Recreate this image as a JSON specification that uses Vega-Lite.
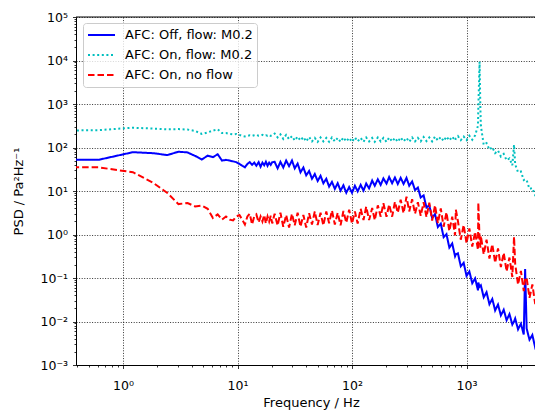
{
"$schema": "https://vega.github.io/schema/vega-lite/v6.json",
"width": 459,
"height": 348,
"autosize": {"type": "none"},
"padding": {"left": 76, "top": 17, "right": 0, "bottom": 45},
"background": "white",
"config": {"view": {"stroke": null}, "font": "DejaVu Sans"},
"data": {"values": [
{"f":0.3,"a":52,"b":245,"c":35},
{"f":0.61,"a":52,"b":250,"c":35},
{"f":1.22,"a":78,"b":285,"c":27},
{"f":1.83,"a":74,"b":272,"c":15.5},
{"f":2.44,"a":67,"b":262,"c":9},
{"f":3.05,"a":80,"b":265,"c":5},
{"f":3.66,"a":77,"b":258,"c":5.3},
{"f":4.27,"a":64,"b":240,"c":4.4},
{"f":4.88,"a":53,"b":205,"c":4.6},
{"f":5.49,"a":65,"b":222,"c":3.9},
{"f":6.1,"a":60,"b":245,"c":2.4},
{"f":6.71,"a":70,"b":262,"c":2.9},
{"f":7.32,"a":50,"b":215,"c":2.2},
{"f":7.93,"a":52,"b":215,"c":2.6},
{"f":8.54,"a":50,"b":205,"c":2.2},
{"f":9.15,"a":48,"b":200,"c":2.1},
{"f":9.76,"a":46,"b":205,"c":2.6},
{"f":10.4,"a":42,"b":195,"c":2.8},
{"f":11.0,"a":38,"b":185,"c":2.2},
{"f":11.6,"a":35,"b":180,"c":1.7},
{"f":12.2,"a":42,"b":185,"c":2.6},
{"f":12.8,"a":46,"b":190,"c":3.0},
{"f":13.4,"a":40,"b":185,"c":1.7},
{"f":14.0,"a":45,"b":192,"c":2.6},
{"f":14.6,"a":38,"b":196,"c":2.9},
{"f":15.3,"a":46,"b":186,"c":1.9},
{"f":15.9,"a":36,"b":190,"c":2.6},
{"f":16.5,"a":45,"b":195,"c":2.0},
{"f":17.1,"a":39,"b":185,"c":2.8},
{"f":17.7,"a":47,"b":190,"c":1.8},
{"f":18.3,"a":38,"b":186,"c":2.6},
{"f":18.9,"a":45,"b":195,"c":2.0},
{"f":19.5,"a":40,"b":185,"c":2.7},
{"f":20.1,"a":46,"b":192,"c":1.8},
{"f":21.1,"a":46.8,"b":209,"c":3.0},
{"f":22.4,"a":33.1,"b":170,"c":1.62},
{"f":23.7,"a":46.8,"b":200,"c":3.16},
{"f":25.1,"a":34.7,"b":158,"c":1.51},
{"f":26.6,"a":50.1,"b":195,"c":2.82},
{"f":28.2,"a":37.2,"b":155,"c":1.45},
{"f":29.9,"a":50.1,"b":182,"c":3.0},
{"f":31.6,"a":33.1,"b":145,"c":1.62},
{"f":33.5,"a":42.7,"b":178,"c":3.16},
{"f":35.5,"a":26.9,"b":145,"c":1.51},
{"f":37.6,"a":34.7,"b":174,"c":2.82},
{"f":39.8,"a":22.9,"b":138,"c":1.45},
{"f":42.2,"a":28.8,"b":174,"c":3.09},
{"f":44.7,"a":19.1,"b":138,"c":1.70},
{"f":47.3,"a":24.5,"b":166,"c":3.39},
{"f":50.1,"a":17.0,"b":135,"c":1.66},
{"f":53.1,"a":22.4,"b":170,"c":3.16},
{"f":56.2,"a":15.1,"b":138,"c":1.62},
{"f":59.6,"a":19.1,"b":166,"c":3.39},
{"f":63.1,"a":12.6,"b":135,"c":1.82},
{"f":66.8,"a":16.2,"b":170,"c":3.55},
{"f":70.8,"a":11.2,"b":138,"c":1.70},
{"f":75.0,"a":15.1,"b":166,"c":3.16},
{"f":79.4,"a":10.2,"b":135,"c":1.62},
{"f":84.1,"a":13.5,"b":170,"c":3.47},
{"f":89.1,"a":9.1,"b":138,"c":1.86},
{"f":94.4,"a":12.3,"b":166,"c":3.72},
{"f":100,"a":9.1,"b":135,"c":1.78},
{"f":106,"a":13.2,"b":170,"c":3.39},
{"f":112,"a":9.8,"b":138,"c":1.78},
{"f":119,"a":13.8,"b":166,"c":3.89},
{"f":126,"a":10.2,"b":135,"c":2.14},
{"f":133,"a":14.8,"b":170,"c":4.37},
{"f":141,"a":11.5,"b":138,"c":2.14},
{"f":150,"a":17.4,"b":166,"c":4.07},
{"f":158,"a":13.2,"b":135,"c":2.14},
{"f":168,"a":18.6,"b":170,"c":4.68},
{"f":178,"a":13.8,"b":138,"c":2.57},
{"f":188,"a":19.5,"b":166,"c":5.25},
{"f":200,"a":14.8,"b":135,"c":2.57},
{"f":211,"a":20.9,"b":170,"c":4.9},
{"f":224,"a":15.1,"b":138,"c":2.57},
{"f":237,"a":20.4,"b":166,"c":5.62},
{"f":251,"a":14.5,"b":135,"c":3.16},
{"f":266,"a":20.0,"b":170,"c":6.31},
{"f":282,"a":14.5,"b":138,"c":3.09},
{"f":299,"a":20.0,"b":166,"c":7.4},
{"f":316,"a":13.2,"b":135,"c":3.39},
{"f":335,"a":16.6,"b":170,"c":6.46},
{"f":355,"a":10.5,"b":138,"c":3.0},
{"f":376,"a":12.0,"b":166,"c":5.5},
{"f":398,"a":7.08,"b":138,"c":2.69},
{"f":422,"a":7.94,"b":174,"c":5.5},
{"f":447,"a":4.17,"b":141,"c":2.51},
{"f":473,"a":4.68,"b":170,"c":5.37},
{"f":501,"a":2.4,"b":138,"c":2.09},
{"f":531,"a":2.95,"b":178,"c":4.68},
{"f":562,"a":1.48,"b":145,"c":1.82},
{"f":596,"a":1.78,"b":174,"c":3.98},
{"f":631,"a":0.87,"b":141,"c":1.51},
{"f":668,"a":1.02,"b":178,"c":3.24},
{"f":708,"a":0.50,"b":145,"c":1.20},
{"f":750,"a":0.62,"b":178,"c":2.57},
{"f":794,"a":0.316,"b":145,"c":0.95},
{"f":807,"a":0.35,"b":162,"c":3.7},
{"f":841,"a":0.37,"b":182,"c":2.04},
{"f":891,"a":0.186,"b":148,"c":0.76},
{"f":944,"a":0.224,"b":178,"c":1.66},
{"f":1000,"a":0.112,"b":148,"c":0.63},
{"f":1059,"a":0.141,"b":186,"c":1.38},
{"f":1122,"a":0.076,"b":151,"c":0.525},
{"f":1189,"a":0.098,"b":190,"c":1.15},
{"f":1259,"a":0.052,"b":316,"c":0.44},
{"f":1268,"a":0.079,"b":800,"c":5.4},
{"f":1300,"a":0.063,"b":9300,"c":0.8},
{"f":1320,"a":0.066,"b":900,"c":0.5},
{"f":1334,"a":0.068,"b":316,"c":0.93},
{"f":1413,"a":0.036,"b":115,"c":0.35},
{"f":1496,"a":0.047,"b":126,"c":0.76},
{"f":1585,"a":0.025,"b":89,"c":0.28},
{"f":1679,"a":0.033,"b":102,"c":0.60},
{"f":1778,"a":0.018,"b":74,"c":0.224},
{"f":1884,"a":0.0245,"b":85,"c":0.48},
{"f":1995,"a":0.0138,"b":62,"c":0.178},
{"f":2113,"a":0.0186,"b":71,"c":0.38},
{"f":2239,"a":0.0107,"b":51,"c":0.141},
{"f":2371,"a":0.0148,"b":56,"c":0.295},
{"f":2512,"a":0.0085,"b":39,"c":0.105},
{"f":2600,"a":0.01,"b":115,"c":0.89},
{"f":2661,"a":0.0117,"b":41,"c":0.209},
{"f":2818,"a":0.0066,"b":27,"c":0.071},
{"f":2985,"a":0.0089,"b":28,"c":0.145},
{"f":3162,"a":0.005,"b":17.8,"c":0.05},
{"f":3250,"a":0.16,"b":18.6,"c":0.1},
{"f":3350,"a":0.0069,"b":17.8,"c":0.1},
{"f":3548,"a":0.0038,"b":11.2,"c":0.035},
{"f":3758,"a":0.0049,"b":11.7,"c":0.071},
{"f":3981,"a":0.0025,"b":7.9,"c":0.025},
{"f":4217,"a":0.003,"b":7.5,"c":0.05}
]},
"layer": [
{
"transform": [{"fold": ["a", "b", "c"], "as": ["s", "v"]}],
"mark": {"type": "line", "strokeWidth": 2, "clip": true},
"encoding": {
"x": {"field": "f", "type": "quantitative",
 "scale": {"type": "log", "domain": [0.3886, 3963], "nice": false, "zero": false},
 "axis": {
  "values": [0.4,0.5,0.6,0.7,0.8,0.9,1,2,3,4,5,6,7,8,9,10,20,30,40,50,60,70,80,90,100,200,300,400,500,600,700,800,900,1000,2000,3000],
  "labelExpr": "datum.value==1?'10⁰':datum.value==10?'10¹':datum.value==100?'10²':datum.value==1000?'10³':''",
  "labelOverlap": false, "labelFontSize": 12.5, "labelColor": "black", "labelFont": "DejaVu Sans", "labelPadding": 11,
  "tickSize": {"condition": {"test": "indexof([1,10,100,1000], datum.value) >= 0", "value": 3.5}, "value": 2},
  "tickColor": "black", "tickWidth": 0.8,
  "grid": true, "gridColor": "black", "gridDash": [1, 1.6], "gridWidth": 0.8,
  "gridOpacity": {"condition": {"test": "indexof([1,10,100,1000], datum.value) >= 0", "value": 1}, "value": 0},
  "domainColor": "black", "domainWidth": 1,
  "title": "Frequency / Hz", "titleFontSize": 13, "titleFontWeight": "normal", "titleColor": "black", "titleFont": "DejaVu Sans",
  "titleX": 235, "titleY": 37, "titleBaseline": "middle", "titleAlign": "center"
 }},
"y": {"field": "v", "type": "quantitative", "title": "PSD / Pa²Hz⁻¹",
 "scale": {"type": "log", "domain": [0.001, 100000], "nice": false, "zero": false},
 "axis": {
  "values": [0.001,0.002,0.003,0.004,0.005,0.006,0.007,0.008,0.009,0.01,0.02,0.03,0.04,0.05,0.06,0.07,0.08,0.09,0.1,0.2,0.3,0.4,0.5,0.6,0.7,0.8,0.9,1,2,3,4,5,6,7,8,9,10,20,30,40,50,60,70,80,90,100,200,300,400,500,600,700,800,900,1000,2000,3000,4000,5000,6000,7000,8000,9000,10000,20000,30000,40000,50000,60000,70000,80000,90000,100000],
  "labelExpr": "datum.value==100000?'10⁵':datum.value==10000?'10⁴':datum.value==1000?'10³':datum.value==100?'10²':datum.value==10?'10¹':datum.value==1?'10⁰':datum.value==0.1?'10⁻¹':datum.value==0.01?'10⁻²':datum.value==0.001?'10⁻³':''",
  "labelOverlap": false, "labelFontSize": 12.5, "labelColor": "black", "labelFont": "DejaVu Sans", "labelPadding": 5,
  "tickSize": {"condition": {"test": "indexof([0.001,0.01,0.1,1,10,100,1000,10000,100000], datum.value) >= 0", "value": 3.5}, "value": 2},
  "tickColor": "black", "tickWidth": 0.8,
  "grid": true, "gridColor": "black", "gridDash": [1, 1.6], "gridWidth": 0.8,
  "gridOpacity": {"condition": {"test": "indexof([0.001,0.01,0.1,1,10,100,1000,10000,100000], datum.value) >= 0", "value": 1}, "value": 0},
  "domainColor": "black", "domainWidth": 1,
  "title": "PSD / Pa²Hz⁻¹", "titleFontSize": 13, "titleFontWeight": "normal", "titleColor": "black", "titleFont": "DejaVu Sans",
  "titleX": -58, "titleY": 174, "titleBaseline": "middle", "titleAlign": "center", "titleAngle": -90
 }},
"color": {"field": "s", "type": "nominal",
 "scale": {"domain": ["a", "b", "c"], "range": ["#0000ff", "#00bfbf", "#ff0000"]},
 "legend": {"title": null, "orient": "none", "legendX": 7, "legendY": 6,
  "symbolType": "stroke", "symbolSize": 729, "symbolStrokeWidth": 2, "clipHeight": 16,
  "labelFontSize": 13, "labelFont": "DejaVu Sans", "labelColor": "black", "labelOffset": 9,
  "fillColor": "rgba(255,255,255,0.8)", "strokeColor": "#cccccc", "cornerRadius": 3, "padding": 4, "rowPadding": 4,
  "labelExpr": "datum.value=='a'?'AFC: Off, flow: M0.2':datum.value=='b'?'AFC: On, flow: M0.2':'AFC: On, no flow'"}},
"strokeDash": {"field": "s", "type": "nominal",
 "scale": {"domain": ["a", "b", "c"], "range": [[1, 0], [2, 2.6], [6.5, 3]]},
 "legend": {"title": null, "orient": "none", "legendX": 7, "legendY": 6,
  "symbolType": "stroke", "symbolSize": 729, "symbolStrokeWidth": 2, "clipHeight": 16,
  "labelFontSize": 13, "labelFont": "DejaVu Sans", "labelColor": "black", "labelOffset": 9,
  "fillColor": "rgba(255,255,255,0.8)", "strokeColor": "#cccccc", "cornerRadius": 3, "padding": 4, "rowPadding": 4,
  "labelExpr": "datum.value=='a'?'AFC: Off, flow: M0.2':datum.value=='b'?'AFC: On, flow: M0.2':'AFC: On, no flow'"}}
}
},
{
"data": {"values": [{"v": 100000}]},
"mark": {"type": "rule", "color": "black", "strokeWidth": 1},
"encoding": {"y": {"field": "v", "type": "quantitative", "title": "PSD / Pa²Hz⁻¹"}}
}
]
}
